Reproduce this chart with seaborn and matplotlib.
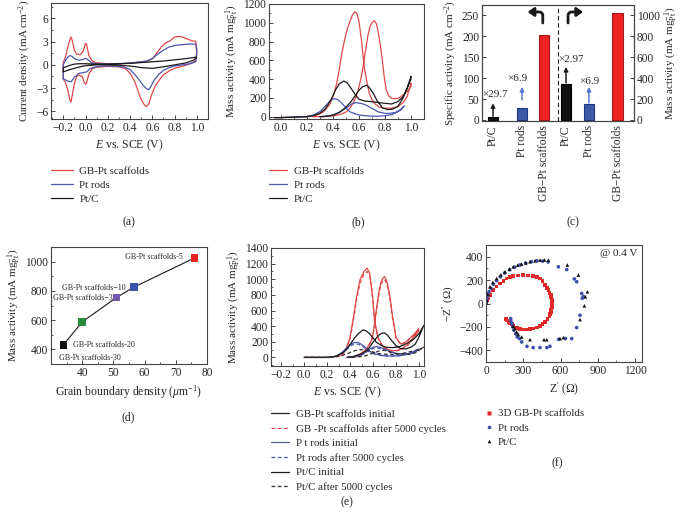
import numpy as np
import pandas as pd
import matplotlib
matplotlib.use("Agg")
import matplotlib.pyplot as plt
import seaborn as sns
from matplotlib.lines import Line2D
from matplotlib.ticker import MultipleLocator

sns.set_theme(style="ticks")
plt.rcParams["font.family"] = ["Liberation Serif", "DejaVu Serif"]
plt.rcParams["mathtext.fontset"] = "custom"
plt.rcParams["mathtext.rm"] = "Liberation Serif"
plt.rcParams["mathtext.it"] = "Liberation Serif:italic"
plt.rcParams["mathtext.bf"] = "Liberation Serif:bold"

# ---------------- data: (a) cyclic voltammograms ----------------
a_names = ["GB-Pt scaffolds", "Pt rods", "Pt/C"]
E_red_a = [-0.20, -0.20, -0.18, -0.16, -0.14, -0.13, -0.12, -0.10, -0.08, -0.05,
           -0.02, 0.00, 0.01, 0.03, 0.06, 0.10, 0.20, 0.30, 0.40, 0.50,
           0.56, 0.60, 0.64, 0.68, 0.72, 0.76, 0.80, 0.84, 0.88, 0.92,
           0.96, 0.99, 1.00, 0.99, 0.95, 0.90, 0.85, 0.80, 0.75, 0.70,
           0.66, 0.62, 0.59, 0.57, 0.55, 0.53, 0.50, 0.47, 0.44, 0.40,
           0.36, 0.30, 0.20, 0.10, 0.06, 0.03, 0.01, 0.00, -0.01, -0.03,
           -0.06, -0.08, -0.10, -0.12, -0.13, -0.14, -0.16, -0.18, -0.20]
j_red_a = [-1.8, 0.3, 1.0, 2.2, 3.3, 3.6, 3.2, 1.9, 1.4, 1.3,
           1.8, 2.8, 2.6, 1.2, 0.5, 0.25, 0.15, 0.15, 0.2, 0.35,
           0.5, 0.8, 1.5, 2.3, 2.85, 3.1, 3.6, 3.7, 3.55, 3.3,
           3.1, 3.05, 2.0, 0.6, 0.2, -0.05, -0.25, -0.45, -0.8, -1.3,
           -2.0, -2.9, -4.0, -5.0, -5.4, -5.2, -4.5, -3.3, -2.1, -1.1,
           -0.5, -0.25, -0.2, -0.3, -0.5, -1.2, -2.3, -2.5, -2.3, -1.5,
           -1.3, -1.5, -2.4, -4.0, -4.8, -4.6, -3.2, -2.3, -1.8]
E_blue_a = [-0.20, -0.20, -0.18, -0.16, -0.14, -0.12, -0.10, -0.06, -0.02, 0.00,
            0.02, 0.05, 0.10, 0.20, 0.30, 0.40, 0.50, 0.55, 0.60, 0.65,
            0.70, 0.75, 0.80, 0.85, 0.90, 0.95, 0.99, 1.00,
            0.99, 0.95, 0.90, 0.80, 0.75, 0.70, 0.66, 0.62, 0.59, 0.57,
            0.55, 0.52, 0.48, 0.44, 0.40, 0.35, 0.25, 0.15, 0.08, 0.04,
            0.01, -0.02, -0.06, -0.10, -0.13, -0.16, -0.20]
j_blue_a = [-1.8, 0.0, 0.6, 1.0, 1.2, 1.1, 0.8, 0.6, 0.7, 0.85,
            0.7, 0.3, 0.15, 0.1, 0.15, 0.25, 0.4, 0.5, 0.8, 1.4,
            1.9, 2.3, 2.5, 2.6, 2.65, 2.7, 2.7, 1.5,
            0.4, 0.2, 0.05, -0.15, -0.35, -0.7, -1.2, -1.9, -2.7, -3.2,
            -3.1, -2.7, -1.9, -1.2, -0.6, -0.3, -0.15, -0.15, -0.3, -0.5,
            -0.9, -1.0, -1.1, -1.6, -2.2, -2.1, -1.8]
E_blk_a = [-0.20, -0.20, -0.15, -0.10, -0.05, 0.00, 0.10, 0.20, 0.30, 0.40,
           0.50, 0.60, 0.70, 0.80, 0.90, 0.97, 1.00,
           0.97, 0.90, 0.80, 0.70, 0.60, 0.50, 0.40, 0.30, 0.20, 0.10,
           0.00, -0.05, -0.10, -0.15, -0.20]
j_blk_a = [-0.9, -0.4, -0.1, 0.1, 0.15, 0.15, 0.1, 0.1, 0.15, 0.2,
           0.3, 0.4, 0.5, 0.65, 0.8, 0.95, 1.0,
           0.6, 0.25, 0.0, -0.25, -0.45, -0.35, -0.15, -0.05, 0.0, 0.0,
           -0.1, -0.25, -0.45, -0.65, -0.9]

# ---------------- data: (b) methanol oxidation ----------------
E_red_b_fwd = [-0.05, 0.00, 0.10, 0.20, 0.26, 0.30, 0.33, 0.36, 0.38, 0.41,
               0.43, 0.45, 0.47, 0.49, 0.51, 0.53, 0.55, 0.57, 0.585, 0.60,
               0.62, 0.64, 0.66, 0.68, 0.70, 0.72, 0.76, 0.80, 0.85, 0.90,
               0.94, 0.97, 1.00]
j_red_b_fwd = [-10, -10, -5, 0, 7, 30, 53, 100, 142, 250,
               355, 510, 680, 816, 930, 1012, 1080, 1118, 1100, 1020,
               816, 540, 380, 248, 185, 140, 100, 90, 90, 106,
               150, 213, 355]
E_red_b_rev = [1.00, 0.98, 0.954, 0.92, 0.90, 0.87, 0.85, 0.83, 0.81, 0.795,
               0.78, 0.765, 0.75, 0.735, 0.718, 0.70, 0.685, 0.67, 0.66, 0.645,
               0.633, 0.615, 0.595, 0.575, 0.556, 0.53, 0.505, 0.47, 0.44, 0.40,
               0.34, 0.25]
j_red_b_rev = [320, 280, 248, 210, 195, 190, 195, 220, 284, 420,
               603, 760, 887, 990, 1022, 1000, 958, 870, 780, 650,
               532, 400, 284, 200, 142, 90, 53, 30, 18, 8,
               0, 0]
E_blk_b_fwd = [-0.05, 0.00, 0.10, 0.20, 0.25, 0.30, 0.34, 0.37, 0.40, 0.42,
               0.45, 0.485, 0.51, 0.54, 0.57, 0.60, 0.65, 0.70, 0.75, 0.80,
               0.85, 0.90, 0.94, 0.97, 1.00]
j_blk_b_fwd = [-10, -10, -5, 0, 10, 35, 80, 142, 220, 284,
               350, 380, 360, 302, 240, 185, 165, 160, 150, 142,
               135, 160, 213, 300, 430]
E_blk_b_rev = [1.00, 0.97, 0.94, 0.90, 0.86, 0.82, 0.78, 0.74, 0.71, 0.68,
               0.66, 0.63, 0.60, 0.57, 0.54, 0.50, 0.46, 0.42, 0.38, 0.34, 0.30]
j_blk_b_rev = [400, 300, 200, 110, 80, 75, 95, 170, 250, 310,
               334, 320, 280, 220, 160, 100, 55, 25, 10, 3, 0]
E_blue_b_fwd = [-0.05, 0.00, 0.10, 0.20, 0.25, 0.30, 0.35, 0.38, 0.41, 0.44,
                0.47, 0.50, 0.53, 0.57, 0.60, 0.65, 0.70, 0.75, 0.80, 0.85,
                0.90, 0.95]
j_blue_b_fwd = [-10, -10, -5, 0, 18, 53, 124, 170, 192, 180,
                142, 95, 53, 30, 18, 10, 5, 5, 10, 20,
                53, 114]
E_blue_b_rev = [0.95, 0.92, 0.88, 0.84, 0.80, 0.75, 0.70, 0.66, 0.62, 0.58,
                0.55, 0.52, 0.49, 0.45, 0.40, 0.35, 0.30]
j_blue_b_rev = [114, 70, 45, 35, 35, 50, 89, 120, 140, 149,
                140, 110, 80, 45, 18, 5, 0]

# ---------------- data: (c) bar chart ----------------
c_cats = ["Pt/C", "Pt rods", "GB\u2212Pt scaffolds"]
c_specific = [6.9, 29.6, 204]      # mA cm^-2
c_mass = [345, 149, 1025]          # mA mg_Pt^-1
c_ratio_spec = ["\u00d729.7", "\u00d76.9"]
c_ratio_mass = ["\u00d72.97", "\u00d76.9"]

# ---------------- data: (d) grain boundary density ----------------
d_gb = [34, 40, 51, 56.5, 76]
d_mass = [432, 588, 755, 825, 1025]
d_names = ["GB-Pt scaffolds-30", "GB-Pt scaffolds-20", "GB-Pt scaffolds\u22123",
           "GB-Pt scaffolds\u221210", "GB-Pt scaffolds-5"]

# ---------------- data: (e) durability ----------------
e_names = ["GB-Pt scaffolds initial", "GB -Pt scaffolds after 5000 cycles",
           "P t rods initial", "Pt rods after 5000 cycles",
           "Pt/C initial", "Pt/C after 5000 cycles"]
E_red_e_fwd = [0.0, 0.1, 0.2, 0.30, 0.34, 0.37, 0.40, 0.43, 0.457, 0.486,
               0.52, 0.549, 0.571, 0.594, 0.614, 0.643, 0.686, 0.73, 0.77, 0.81,
               0.85, 0.90, 0.95, 1.00]
j_red_e_fwd = [0, 0, 0, 15, 50, 130, 258, 517, 775, 991,
               1099, 1142, 1077, 818, 474, 258, 138, 100, 86, 90,
               108, 160, 250, 366]
j_red_e_fwd_aged = [0, 0, 0, 12, 45, 120, 240, 490, 740, 950,
                    1060, 1100, 1040, 790, 455, 250, 130, 95, 82, 85,
                    100, 150, 230, 340]
E_red_e_rev = [1.00, 0.96, 0.93, 0.886, 0.843, 0.80, 0.785, 0.771, 0.757, 0.743,
               0.728, 0.714, 0.70, 0.685, 0.671, 0.657, 0.643, 0.628, 0.614, 0.60,
               0.586, 0.56, 0.543, 0.51, 0.486, 0.43, 0.37]
j_red_e_rev = [366, 300, 258, 194, 172, 258, 400, 517, 680, 818,
               930, 1000, 1034, 1010, 969, 880, 754, 600, 431, 300,
               215, 150, 108, 65, 43, 9, 0]
j_red_e_rev_aged = [340, 285, 245, 185, 165, 245, 380, 495, 650, 790,
                    895, 965, 995, 975, 935, 850, 725, 575, 410, 285,
                    205, 140, 100, 60, 40, 8, 0]
E_blk_e_fwd = [0.0, 0.1, 0.2, 0.257, 0.30, 0.343, 0.38, 0.414, 0.44, 0.471,
               0.514, 0.54, 0.571, 0.60, 0.629, 0.67, 0.714, 0.77, 0.829, 0.87,
               0.914, 0.96, 1.0, 1.043]
j_blk_e_fwd = [0, 0, 0, 9, 30, 65, 120, 194, 250, 302,
               353, 340, 302, 250, 194, 155, 129, 125, 138, 160,
               194, 240, 302, 409]
j_blk_e_fwd_aged = [0, 0, 0, 5, 15, 30, 50, 70, 85, 95,
                    100, 95, 85, 70, 55, 45, 40, 40, 45, 55,
                    70, 85, 100, 130]
E_blk_e_rev = [1.043, 1.00, 0.97, 0.93, 0.886, 0.84, 0.80, 0.76, 0.729, 0.70,
               0.68, 0.657, 0.63, 0.60, 0.57, 0.543, 0.50, 0.457, 0.42, 0.38]
j_blk_e_rev = [409, 260, 172, 130, 108, 115, 151, 220, 280, 314,
               310, 293, 250, 194, 130, 86, 45, 22, 8, 0]
j_blk_e_rev_aged = [130, 90, 60, 45, 40, 42, 50, 65, 80, 90,
                    90, 85, 70, 55, 38, 25, 12, 5, 2, 0]
E_blue_e_fwd = [0.0, 0.1, 0.2, 0.25, 0.286, 0.33, 0.37, 0.40, 0.43, 0.457,
                0.485, 0.514, 0.55, 0.586, 0.63, 0.686, 0.75, 0.829, 0.89, 0.943,
                1.0]
j_blue_e_fwd = [0, 0, 0, 5, 22, 65, 121, 165, 185, 194,
                180, 151, 105, 65, 40, 22, 18, 22, 40, 65,
                108]
j_blue_e_fwd_aged = [0, 0, 0, 4, 18, 55, 105, 145, 165, 172,
                     160, 135, 95, 58, 36, 20, 16, 20, 35, 58,
                     95]
E_blue_e_rev = [1.0, 0.96, 0.914, 0.86, 0.80, 0.75, 0.70, 0.66, 0.629, 0.60,
                0.571, 0.54, 0.514, 0.47, 0.43, 0.40, 0.37]
j_blue_e_rev = [108, 65, 43, 45, 52, 75, 108, 130, 138, 130,
                108, 75, 43, 20, 9, 3, 0]
j_blue_e_rev_aged = [95, 58, 38, 40, 46, 66, 95, 115, 122, 115,
                     95, 66, 38, 18, 8, 3, 0]

# ---------------- data: (f) Nyquist plot ----------------
f_names = ["3D GB-Pt scaffolds", "Pt rods", "Pt/C"]
red_zr = [3, 8, 19, 35, 59, 85, 113, 140, 166, 195, 220, 260, 300, 340, 381, 410, 435, 455, 475, 490,
          502, 512, 521, 526, 529, 530, 529, 526, 521, 515, 510, 495, 475, 455, 435, 410, 381, 355, 328, 300,
          274, 250, 234, 220, 207, 193, 180, 170, 161]
red_zi = [5, 25, 43, 75, 114, 145, 171, 195, 214, 226, 234, 240, 243, 240, 234, 225, 214, 190, 157, 135,
          114, 92, 71, 50, 29, 0, -29, -50, -71, -90, -109, -135, -157, -178, -194, -205, -214, -220, -223, -221,
          -217, -212, -206, -192, -177, -167, -157, -145, -134]
blue_zr = [3, 8, 15, 25, 40, 60, 85, 115, 150, 190, 230, 275, 320, 365, 410, 455, 500, 583, 650, 711,
           730, 770, 785, 775, 757, 730, 690, 640, 585, 515, 490, 435, 380, 330, 287, 270, 252, 240, 225, 215,
           207, 200, 199]
blue_zi = [10, 40, 70, 100, 130, 165, 195, 228, 260, 288, 310, 330, 345, 357, 365, 362, 355, 314, 290, 210,
           186, 86, 60, 45, -100, -206, -300, -300, -306, -366, -377, -377, -377, -366, -329, -300, -286, -260, -229, -200,
           -171, -150, -129]
blk_zr = [2, 5, 15, 32, 55, 86, 120, 153, 190, 220, 255, 287, 320, 354, 395, 435, 470, 502, 655, 744,
          816, 800, 792, 757, 623, 596, 489, 467, 354, 287, 260, 247, 230, 220]
blk_zi = [5, 29, 80, 143, 180, 214, 245, 271, 295, 314, 328, 337, 348, 357, 365, 371, 372, 371, 329, 243,
          100, 57, -20, -137, -291, -300, -309, -309, -309, -286, -265, -243, -215, -194]

# ---------------- styling ----------------
RED, BLUE, BLK = "#e04848", "#4a58b0", "#1a1a1a"
W, H = 681, 518
fig = plt.figure(figsize=(W / 100, H / 100), dpi=100)
TICK = 8.3
LBL = 8.0
LEG = 7.8


def box(l, t, r, b):
    return [l / W, 1 - b / H, (r - l) / W, (b - t) / H]


def style(ax):
    for s in ax.spines.values():
        s.set_color("#444444")
        s.set_linewidth(0.8)
    ax.tick_params(which="major", direction="in", length=3, width=0.7,
                   labelsize=TICK, pad=2, color="#444444")
    ax.tick_params(which="minor", direction="in", length=1.6, width=0.6, color="#444444")


def frame(names, Es, js):
    return pd.concat([pd.DataFrame({"E": e, "j": j, "series": n})
                      for n, e, j in zip(names, Es, js)], ignore_index=True)


def line_legend(ax, colors, names, y, styles=None, hl=2.0, ls=0.42):
    styles = styles or ["-"] * len(names)
    hs = [Line2D([], [], color=c, lw=0.9, ls=s) for c, s in zip(colors, styles)]
    ax.legend(hs, names, loc="upper left", bbox_to_anchor=(0, y), frameon=False,
              fontsize=LEG, handlelength=hl, handletextpad=0.6, labelspacing=ls,
              borderpad=0, borderaxespad=0)


# ---------------- (a) ----------------
ax_a = fig.add_axes(box(51, 3, 208, 119))
df_a = frame(a_names, [E_red_a, E_blue_a, E_blk_a], [j_red_a, j_blue_a, j_blk_a])
sns.lineplot(data=df_a, x="E", y="j", hue="series", palette=[RED, BLUE, BLK],
             sort=False, estimator=None, lw=0.9, ax=ax_a, legend=False)
ax_a.set_xlim(-0.31, 1.1)
ax_a.set_ylim(-7, 8)
ax_a.set_xticks(np.arange(-0.2, 1.01, 0.2))
ax_a.set_yticks([-6, -3, 0, 3, 6])
ax_a.xaxis.set_minor_locator(MultipleLocator(0.1))
ax_a.yaxis.set_minor_locator(MultipleLocator(1.5))
ax_a.set_xlabel(r"$E$ vs. SCE (V)", fontsize=LBL + 0.5, labelpad=3)
ax_a.set_ylabel(r"Current density (mA cm$^{-2}$)", fontsize=LBL, labelpad=2)
style(ax_a)
line_legend(ax_a, [RED, BLUE, BLK], a_names, -0.405, hl=2.0)

# ---------------- (b) ----------------
ax_b = fig.add_axes(box(269, 4, 424, 119))
df_b = frame(a_names,
             [E_red_b_fwd + E_red_b_rev, E_blue_b_fwd + E_blue_b_rev, E_blk_b_fwd + E_blk_b_rev],
             [j_red_b_fwd + j_red_b_rev, j_blue_b_fwd + j_blue_b_rev, j_blk_b_fwd + j_blk_b_rev])
sns.lineplot(data=df_b, x="E", y="j", hue="series", palette=[RED, BLUE, BLK],
             sort=False, estimator=None, lw=0.9, ax=ax_b, legend=False)
ax_b.set_xlim(-0.09, 1.1)
ax_b.set_ylim(-25, 1200)
ax_b.set_xticks(np.arange(0, 1.01, 0.2))
ax_b.set_yticks(np.arange(0, 1201, 200))
ax_b.xaxis.set_minor_locator(MultipleLocator(0.1))
ax_b.yaxis.set_minor_locator(MultipleLocator(100))
ax_b.set_xlabel(r"$E$ vs. SCE (V)", fontsize=LBL + 0.5, labelpad=3)
ax_b.set_ylabel(r"Mass activity (mA mg$_{\mathrm{Pt}}^{-1}$)", fontsize=LBL, labelpad=2)
style(ax_b)
line_legend(ax_b, [RED, BLUE, BLK], a_names, -0.41, hl=1.7)

# ---------------- (c) ----------------
slots_left = [0.5, 1.82, 2.82]
slots_right = [3.82, 4.86, 6.16]
divider = 3.44
c_fill = {"Pt/C": "#111111", "Pt rods": "#3a5aa8", "GB\u2212Pt scaffolds": "#ee2222"}
c_edge = ["#000000", "#1f3580", "#a01818"]
ax_c = fig.add_axes(box(482, 5, 634, 121))
sns.barplot(x=slots_left, y=c_specific, hue=c_cats, palette=c_fill, native_scale=True,
            width=0.48, saturation=1, legend=False, ax=ax_c)
ax_c2 = ax_c.twinx()
sns.barplot(x=slots_right, y=c_mass, hue=c_cats, palette=c_fill, native_scale=True,
            width=0.46, saturation=1, legend=False, ax=ax_c2)
for axx in (ax_c, ax_c2):
    for p, ec in zip(axx.patches, c_edge):
        p.set_edgecolor(ec)
        p.set_linewidth(0.8)
ax_c.set_xlim(0, 6.91)
ax_c.set_ylim(-2.5, 275)
ax_c2.set_ylim(-10, 1100)
ax_c.set_yticks(np.arange(0, 251, 50))
ax_c2.set_yticks(np.arange(0, 1001, 200))
ax_c.set_xticks(slots_left + slots_right)
ax_c.set_xticklabels(c_cats * 2, rotation=90, fontsize=8.3)
ax_c.axvline(divider, color="#222222", ls=(0, (4, 2.5)), lw=0.8)
ax_c.set_ylabel(r"Specific activity (mA cm$^{-2}$)", fontsize=LBL, labelpad=2)
ax_c2.set_ylabel(r"Mass activity (mA mg$_{\mathrm{Pt}}^{-1}$)", fontsize=LBL, labelpad=2)
ax_c.set_xlabel("")
style(ax_c)
style(ax_c2)
ax_c.tick_params(axis="x", length=0, pad=3)
ARR_BLUE = "#5577cc"
arr = dict(arrowstyle="-|>", lw=1.1, mutation_scale=6, shrinkA=0, shrinkB=0)
ax_c.annotate("", xy=(slots_left[0], 40), xytext=(slots_left[0], 9),
              arrowprops=dict(arr, color="k"))
ax_c.annotate("", xy=(slots_left[1], 79), xytext=(slots_left[1], 48),
              arrowprops=dict(arr, color=ARR_BLUE))
ax_c.text(0.59, 60, c_ratio_spec[0], fontsize=8, ha="center", va="center")
ax_c.text(1.59, 98, c_ratio_spec[1], fontsize=8, ha="center", va="center")
ax_c2.annotate("", xy=(slots_right[0], 508), xytext=(slots_right[0], 355),
               arrowprops=dict(arr, color="k"))
ax_c2.annotate("", xy=(slots_right[1], 316), xytext=(slots_right[1], 163),
               arrowprops=dict(arr, color=ARR_BLUE))
ax_c2.text(4.05, 575, c_ratio_mass[0], fontsize=8, ha="center", va="center")
ax_c2.text(4.86, 364, c_ratio_mass[1], fontsize=8, ha="center", va="center")
bend = dict(arrowstyle="-|>,head_length=0.45,head_width=0.32", lw=2.0, color="k",
            mutation_scale=8, shrinkA=0, shrinkB=0,
            connectionstyle="angle,angleA=90,angleB=0,rad=4")
ax_c.annotate("", xy=(0.30, 0.94), xytext=(0.40, 0.845), xycoords="axes fraction",
              textcoords="axes fraction", arrowprops=bend)
ax_c.annotate("", xy=(0.665, 0.94), xytext=(0.566, 0.845), xycoords="axes fraction",
              textcoords="axes fraction", arrowprops=bend)

# ---------------- (d) ----------------
ax_d = fig.add_axes(box(51, 247, 207, 364))
sns.lineplot(x=d_gb, y=d_mass, color="k", lw=0.8, sort=False, estimator=None, ax=ax_d)
sns.scatterplot(x=d_gb, y=d_mass, hue=d_names,
                palette=["#111111", "#2a8a40", "#7358b0", "#3a55a8", "#e82222"],
                marker="s", s=32, edgecolor="none", legend=False, ax=ax_d, zorder=3)
ax_d.set_xlim(30, 80)
ax_d.set_ylim(300, 1100)
ax_d.set_xticks([40, 50, 60, 70, 80])
ax_d.set_yticks([400, 600, 800, 1000])
ax_d.xaxis.set_minor_locator(MultipleLocator(5))
ax_d.yaxis.set_minor_locator(MultipleLocator(100))
ax_d.set_xlabel(r"Grain boundary density ($\mathit{\mu}$m$^{-1}$)", fontsize=LBL + 0.5, labelpad=3)
ax_d.set_ylabel(r"Mass activity (mA mg$_{\mathrm{Pt}}^{-1}$)", fontsize=LBL, labelpad=2)
style(ax_d)
SM = 5.8
ax_d.text(72.3, 1033, d_names[4], fontsize=SM, ha="right", va="center")
ax_d.text(53.9, 822, d_names[3], fontsize=SM, ha="right", va="center")
ax_d.text(49.7, 752, d_names[2], fontsize=SM, ha="right", va="center")
ax_d.text(37.1, 430, d_names[1], fontsize=SM, ha="left", va="center")
ax_d.text(32.6, 341, d_names[0], fontsize=SM, ha="left", va="center")

# ---------------- (e) ----------------
ax_e = fig.add_axes(box(271, 248, 424, 366))
df_e = frame(e_names,
             [E_red_e_fwd + E_red_e_rev, E_red_e_fwd + E_red_e_rev,
              E_blue_e_fwd + E_blue_e_rev, E_blue_e_fwd + E_blue_e_rev,
              E_blk_e_fwd + E_blk_e_rev, E_blk_e_fwd + E_blk_e_rev],
             [j_red_e_fwd + j_red_e_rev, j_red_e_fwd_aged + j_red_e_rev_aged,
              j_blue_e_fwd + j_blue_e_rev, j_blue_e_fwd_aged + j_blue_e_rev_aged,
              j_blk_e_fwd + j_blk_e_rev, j_blk_e_fwd_aged + j_blk_e_rev_aged])
e_pal = dict(zip(e_names, [RED, RED, BLUE, BLUE, BLK, "#333333"]))
e_dash = dict(zip(e_names, ["", (3, 2), "", (3, 2), "", (3, 2)]))
sns.lineplot(data=df_e, x="E", y="j", hue="series", style="series", palette=e_pal,
             dashes=e_dash, sort=False, estimator=None, lw=0.9, ax=ax_e, legend=False)
ax_e.set_xlim(-0.29, 1.045)
ax_e.set_ylim(-110, 1400)
ax_e.set_xticks(np.arange(-0.2, 1.01, 0.2))
ax_e.set_yticks(np.arange(0, 1401, 200))
ax_e.xaxis.set_minor_locator(MultipleLocator(0.1))
ax_e.yaxis.set_minor_locator(MultipleLocator(100))
ax_e.set_xlabel(r"$E$ vs. SCE (V)", fontsize=LBL + 0.5, labelpad=3)
ax_e.set_ylabel(r"Mass activity (mA mg$_{\mathrm{Pt}}^{-1}$)", fontsize=LBL, labelpad=2)
style(ax_e)
line_legend(ax_e, ["#222222", RED, "#556088", BLUE, BLK, "#333333"], e_names, -0.37,
            styles=["-", (0, (3, 2)), "-", (0, (3, 2)), "-", (0, (3, 2))], hl=1.7, ls=0.45)

# ---------------- (f) ----------------
ax_f = fig.add_axes(box(486, 245, 642, 362))
df_f = pd.concat([pd.DataFrame({"zr": red_zr, "zi": red_zi, "series": f_names[0]}),
                  pd.DataFrame({"zr": blue_zr, "zi": blue_zi, "series": f_names[1]}),
                  pd.DataFrame({"zr": blk_zr, "zi": blk_zi, "series": f_names[2]})],
                 ignore_index=True)
f_pal = dict(zip(f_names, ["#e02a2a", "#3d4fae", "#111111"]))
f_mk = dict(zip(f_names, ["s", "o", "^"]))
sns.scatterplot(data=df_f, x="zr", y="zi", hue="series", style="series", palette=f_pal,
                markers=f_mk, s=7, edgecolor="none", legend=False, ax=ax_f)
ax_f.set_xlim(0, 1256)
ax_f.set_ylim(-500, 500)
ax_f.set_xticks(np.arange(0, 1201, 300))
ax_f.set_yticks(np.arange(-400, 401, 200))
ax_f.xaxis.set_minor_locator(MultipleLocator(150))
ax_f.yaxis.set_minor_locator(MultipleLocator(100))
ax_f.set_xlabel(r"Z$'$ ($\Omega$)", fontsize=LBL + 0.5, labelpad=3)
ax_f.set_ylabel(r"$-$Z$''$ ($\Omega$)", fontsize=LBL, labelpad=2)
ax_f.text(0.97, 0.93, "@ 0.4 V", transform=ax_f.transAxes, fontsize=8, ha="right", va="center")
style(ax_f)
hs = [Line2D([], [], ls="", marker=f_mk[n], color=f_pal[n], ms=2.6, mec="none") for n in f_names]
ax_f.legend(hs, f_names, loc="upper left", bbox_to_anchor=(0, -0.40), frameon=False,
            fontsize=LEG, handlelength=0.6, handletextpad=0.5, labelspacing=0.42,
            borderpad=0, borderaxespad=0)

# ---------------- panel letters ----------------
for txt, x, y in [("(a)", 129, 222), ("(b)", 358, 222), ("(c)", 573, 222),
                  ("(d)", 128, 417), ("(e)", 347, 502), ("(f)", 557, 463)]:
    fig.text(x / W, 1 - y / H, txt, fontsize=8.5, ha="center", va="center")

fig.savefig("out.png", dpi=100)
